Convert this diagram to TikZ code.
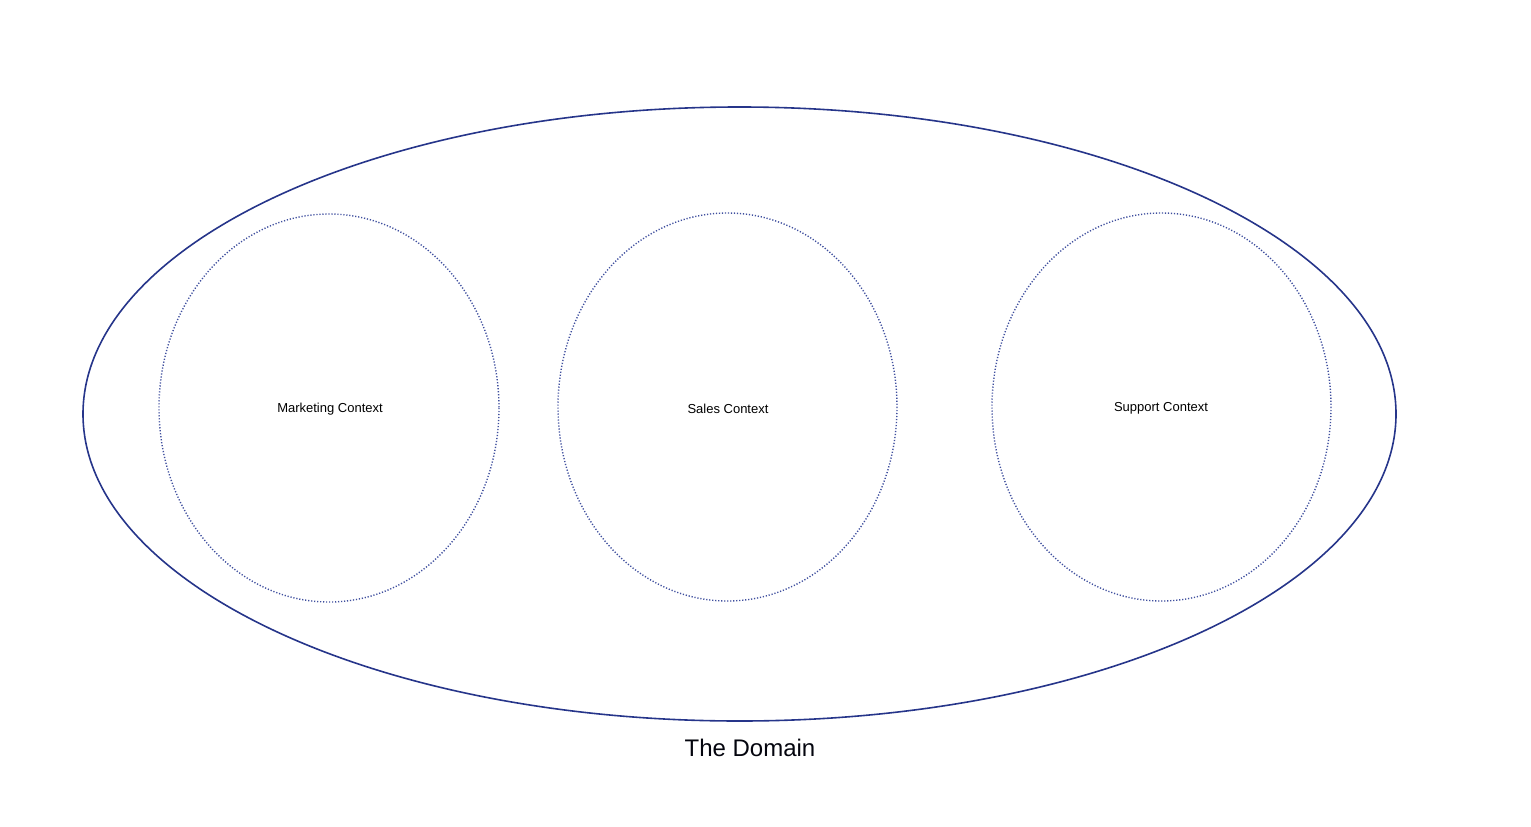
\documentclass[tikz,border=0pt]{standalone}
\usepackage{fontspec}
\setmainfont{Liberation Sans}
\definecolor{domblue}{HTML}{26358A}
\definecolor{ctxblue}{HTML}{3F4F9E}
\begin{document}
\begin{tikzpicture}[x=1pt,y=-1pt,
  domring/.style={draw=domblue,line width=1.6pt},
  ctxring/.style={draw=ctxblue,line width=1.4pt,dash pattern=on 1.2pt off 1.8pt},
  lbl/.style={font=\fontsize{13}{15}\selectfont,text=black},
  biglbl/.style={font=\fontsize{24}{28}\selectfont,text=black!90!domblue}]
\useasboundingbox (0,0) rectangle (1531,827);
\draw[domring] (739.5,414) ellipse [x radius=656.5, y radius=307];
\draw[ctxring] (329,408) ellipse [x radius=170, y radius=194];
\draw[ctxring] (727.5,407) ellipse [x radius=169.5, y radius=194];
\draw[ctxring] (1161.5,407) ellipse [x radius=169.5, y radius=194];
\node[lbl] (mkt) at (330,409.5) {Marketing Context};
\node[lbl] (sales) at (728,408.5) {Sales Context};
\node[lbl] (supp) at (1161,408.5) {Support Context};
\node[biglbl] (dom) at (750,748) {The Domain};
\end{tikzpicture}
\end{document}
